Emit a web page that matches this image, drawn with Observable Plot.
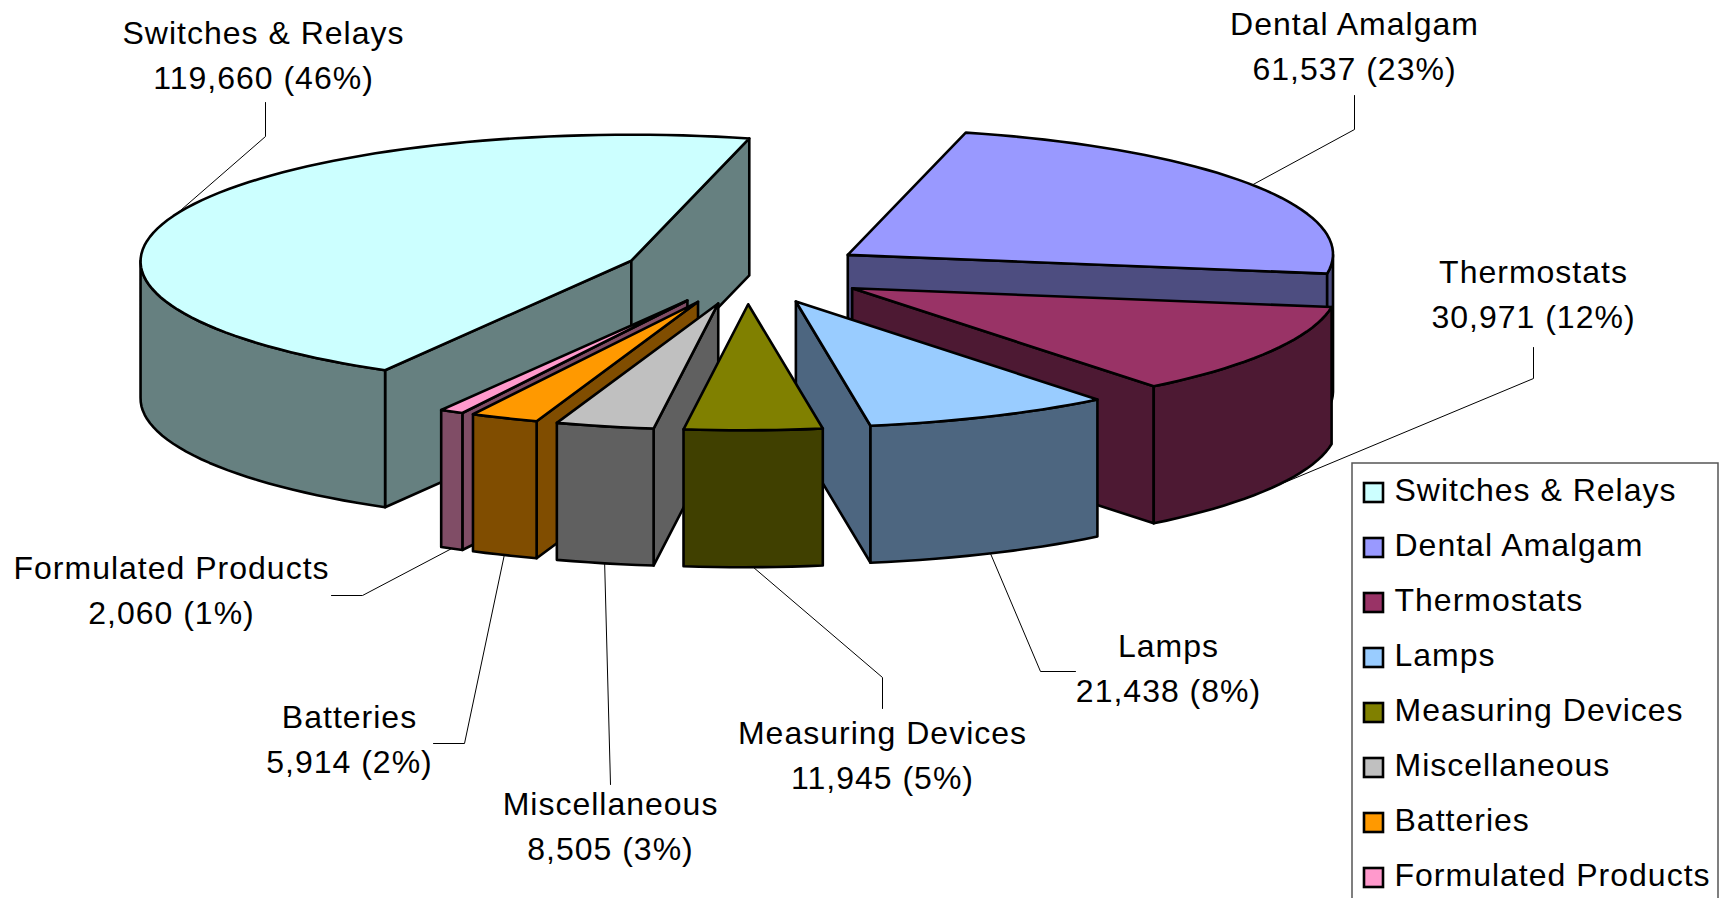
<!DOCTYPE html>
<html>
<head>
<meta charset="utf-8">
<script src="https://cdn.jsdelivr.net/npm/d3@7"></script>
<script src="https://cdn.jsdelivr.net/npm/@observablehq/plot@0.6"></script>
<style>
html,body{margin:0;padding:0;background:#fff;overflow:hidden}
</style>
</head>
<body>
<div id="chart"></div>
<script>
// Data, in legend order
const categories = ["Switches & Relays","Dental Amalgam","Thermostats","Lamps","Measuring Devices","Miscellaneous","Batteries","Formulated Products"];
const tons = [119660,61537,30971,21438,11945,8505,5914,2060];
const topColors = ["#CCFFFF","#9999FF","#993366","#99CCFF","#808000","#C0C0C0","#FF9900","#FF99CC"];
const wallColors = ["#668080","#4D4D80","#4D1933","#4D6680","#404000","#606060","#804D00","#804D66"];

// Pie drawing settings
const firstAngle = 209.6, explode = 0.252;
const cx = 745, cy = 272, rx = 488, ry = 126, depth = 137, shear = 0.022;
const paintOrder = [1,2,3,0,7,6,5,4];

// Label layout: centre of text block, elbow of the leader, end of the leader
const labelX = [263,1354,1533,1168,882,610,349,171];
const labelY = [52,43,291,665,752,823,736,587];
const elbowX = [265,1354,1533,1040,882,null,464,362];
const elbowY = [136,129,378,671,677,null,743,595];
const leaderEndX = [265,1354,1533,1075,882,610,433,331];
const leaderEndY = [102,95,347,671,708,784,743,595];
const leaderOnBottomRim = [false,false,true,true,true,true,true,true];

// Legend layout
const legendBox = {x1:1352,x2:1718,y1:463,y2:910};
const legendSwatchX = [1364,1383], legendTextX = 1394, legendFirstY = 483, legendStep = 55, legendSwatchSize = 19;

const total = d3.sum(tons);
const rad = d => d * Math.PI / 180;
const rim = (c, a) => [
  c[0] + rx * Math.sin(rad(a)) - shear * ry * (1 - Math.cos(rad(a))),
  c[1] - ry * Math.cos(rad(a))
];

let start = firstAngle;
const slices = categories.map((name, i) => {
  const sweep = tons[i] / total * 360;
  const a0 = start, a1 = start + sweep, mid = (a0 + a1) / 2;
  start = a1;
  const apex = [cx + explode * rx * Math.sin(rad(mid)), cy - explode * ry * Math.cos(rad(mid))];
  return {i, name, a0, a1, mid, apex};
});

const arc = (c, a0, a1) => {
  const n = Math.max(2, Math.ceil((a1 - a0) / 2));
  return d3.range(n + 1).map(k => rim(c, a0 + (a1 - a0) * k / n));
};
const down = p => [p[0], p[1] + depth];

const rows = [];
const poly = (id, pts, fill) => pts.forEach(p => rows.push({id, x: p[0], y: p[1], fill}));

for (const k of paintOrder) {
  const s = slices[k], wall = wallColors[k];
  // radial faces turned toward the viewer
  if (Math.sin(rad(s.a0)) < 0) {
    const e = rim(s.apex, s.a0);
    poly(`${k}-start`, [s.apex, e, down(e), down(s.apex)], wall);
  }
  if (Math.sin(rad(s.a1)) > 0) {
    const e = rim(s.apex, s.a1);
    poly(`${k}-end`, [s.apex, e, down(e), down(s.apex)], wall);
  }
  // outer wall: the front half of the ellipse (90°..270°, also wrapped by 360°)
  for (const off of [0, 360]) {
    const lo = Math.max(s.a0, 90 + off), hi = Math.min(s.a1, 270 + off);
    if (hi > lo) {
      const t = arc(s.apex, lo, hi);
      poly(`${k}-wall${off}`, [...t, ...t.slice().reverse().map(down)], wall);
    }
  }
  // top face
  poly(`${k}-top`, [s.apex, ...arc(s.apex, s.a0, s.a1)], topColors[k]);
}

const leaders = [];
slices.forEach((s, i) => {
  const r = rim(s.apex, s.mid);
  const from = leaderOnBottomRim[i] ? down(r) : r;
  leaders.push({id: i, x: from[0], y: from[1]});
  if (elbowX[i] != null) leaders.push({id: i, x: elbowX[i], y: elbowY[i]});
  leaders.push({id: i, x: leaderEndX[i], y: leaderEndY[i]});
});

const labels = slices.map((s, i) => ({
  x: labelX[i], y: labelY[i],
  text: `${s.name}\n${d3.format(",")(tons[i])} (${Math.round(tons[i] / total * 100)}%)`
}));

const legendRows = categories.map((name, i) => ({
  name, fill: topColors[i],
  y1: legendFirstY + i * legendStep,
  y2: legendFirstY + i * legendStep + legendSwatchSize,
  ty: legendFirstY + i * legendStep + 7
}));

const chart = Plot.plot({
  width: 1720, height: 898,
  margin: 0,
  x: {domain: [0, 1720], range: [0, 1720], axis: null},
  y: {domain: [0, 898], range: [0, 898], axis: null},
  color: {type: "identity"},
  style: {background: "#fff", fontFamily: "'Liberation Sans', Arial, sans-serif", letterSpacing: "1px", overflow: "hidden"},
  marks: [
    Plot.line(leaders, {x: "x", y: "y", z: "id", stroke: "#000", strokeWidth: 1}),
    Plot.line(rows, {x: "x", y: "y", z: "id", fill: "fill", stroke: "#000", strokeWidth: 2.6, curve: "linear-closed", strokeLinejoin: "round"}),
    Plot.text(labels, {x: "x", y: "y", text: "text", fontSize: 32, lineHeight: 1.4, fill: "#000", textAnchor: "middle"}),
    Plot.rect([legendBox], {x1: "x1", x2: "x2", y1: "y1", y2: "y2", fill: "#fff", stroke: "#555", strokeWidth: 1.5}),
    Plot.rect(legendRows, {x1: () => legendSwatchX[0], x2: () => legendSwatchX[1], y1: "y1", y2: "y2", fill: "fill", stroke: "#000", strokeWidth: 2.6}),
    Plot.text(legendRows, {x: () => legendTextX, y: "ty", text: "name", fontSize: 32, fill: "#000", textAnchor: "start"})
  ]
});
document.getElementById("chart").appendChild(chart);
</script>
</body>
</html>
